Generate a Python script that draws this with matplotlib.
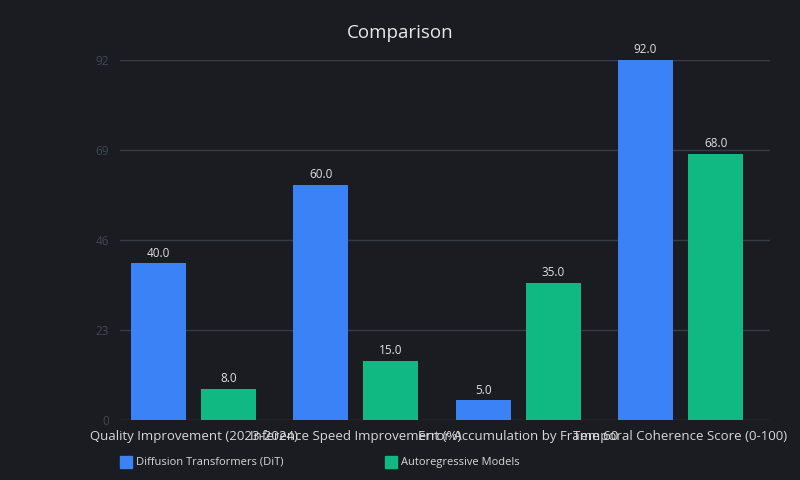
import numpy as np
import matplotlib.pyplot as plt
from matplotlib.patches import Rectangle

categories = ['Quality Improvement (2023-2024)', 'Inference Speed Improvement (%)',
              'Error Accumulation by Frame 60', 'Temporal Coherence Score (0-100)']
dit_values = [40.0, 60.0, 5.0, 92.0]
ar_values = [8.0, 15.0, 35.0, 68.0]
series_names = ['Diffusion Transformers (DiT)', 'Autoregressive Models']
y_ticks = [0, 23, 46, 69, 92]

bg = '#1b1c21'
blue = '#3b82f6'
green = '#10b981'

plt.rcParams['font.family'] = ['Open Sans', 'DejaVu Sans']

fig = plt.figure(figsize=(8, 4.8), dpi=100, facecolor=bg)
ax = fig.add_axes([120/800, 60/480, 650/800, 360/480])
ax.set_facecolor(bg)

x = np.arange(len(categories))
w = 0.339
off = 0.216
b1 = ax.bar(x - off, dit_values, w, color=blue, zorder=3)
b2 = ax.bar(x + off, ar_values, w, color=green, zorder=3)

for bars, vals in [(b1, dit_values), (b2, ar_values)]:
    for b, v in zip(bars, vals):
        ax.text(b.get_x() + b.get_width()/2, v + 1.0, f'{v:.1f}', ha='center', va='bottom',
                color='#e0e0e0', fontsize=8.5)

ax.set_xlim(-0.453, 3.551)
ax.set_ylim(0, 92)
ax.set_yticks(y_ticks)
ax.set_yticklabels([str(t) for t in y_ticks], color='#3f4757', fontsize=8.5)
ax.set_xticks(x)
ax.set_xticklabels(categories, color='#d8d8d8', fontsize=9.5)
ax.tick_params(axis='both', length=0, pad=8)
ax.tick_params(axis='x', pad=7)
ax.grid(axis='y', color='#363b4a', linewidth=1, zorder=0)
for s in ax.spines.values():
    s.set_visible(False)

# title centred on the whole figure
fig.text(0.5, 1 - 33/480, 'Comparison', color='#e8e8e8', fontsize=13.5, ha='center', va='center')

# legend at the bottom
for xpos, col, name in [(120, blue, series_names[0]), (385, green, series_names[1])]:
    fig.patches.append(Rectangle((xpos/800, 1 - 468/480), 12/800, 12/480,
                                 transform=fig.transFigure, color=col))
    fig.text((xpos + 16)/800, 1 - 462/480, name, color='#d8d8d8', fontsize=8, va='center')

fig.savefig('out.png', dpi=100, facecolor=bg)
